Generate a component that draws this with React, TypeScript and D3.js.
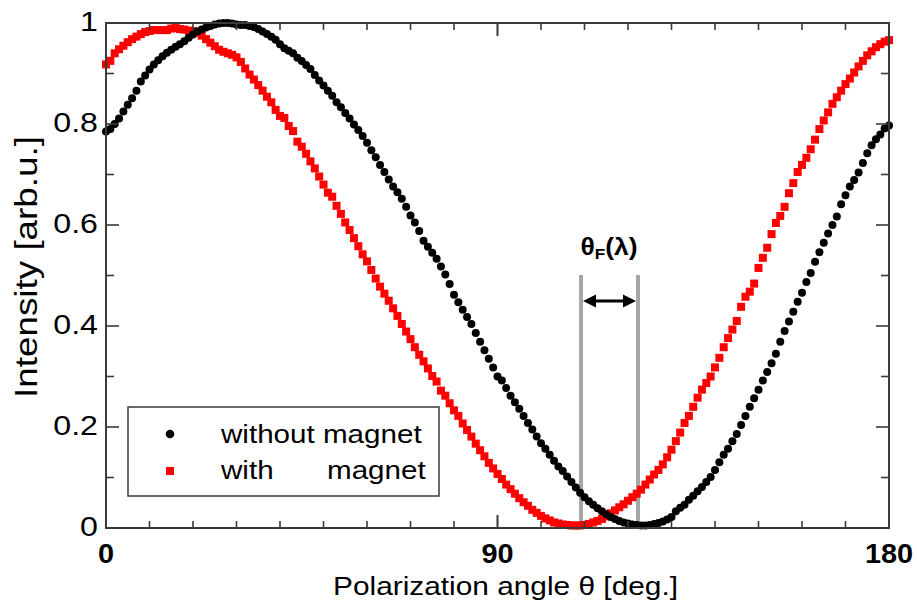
import React from "react";
import * as d3 from "d3";

const angles: number[] = d3.range(0, 181, 1);

const withoutMagnet: number[] = [
  0.785, 0.790, 0.800, 0.811, 0.825, 0.838, 0.851, 0.866, 0.884, 0.896,
  0.908, 0.918, 0.926, 0.934, 0.941, 0.947, 0.953, 0.958, 0.964, 0.971,
  0.977, 0.983, 0.987, 0.991, 0.994, 0.997, 0.999, 1.000, 1.000, 0.999,
  0.997, 0.996, 0.996, 0.994, 0.992, 0.988, 0.983, 0.978, 0.973, 0.967,
  0.958, 0.950, 0.945, 0.940, 0.931, 0.925, 0.917, 0.909, 0.897, 0.886,
  0.876, 0.866, 0.856, 0.843, 0.833, 0.822, 0.811, 0.799, 0.788, 0.776,
  0.763, 0.748, 0.734, 0.719, 0.705, 0.690, 0.676, 0.665, 0.652, 0.636,
  0.619, 0.605, 0.588, 0.569, 0.557, 0.545, 0.533, 0.518, 0.502, 0.483,
  0.462, 0.447, 0.432, 0.418, 0.404, 0.386, 0.369, 0.352, 0.335, 0.318,
  0.300, 0.292, 0.277, 0.262, 0.249, 0.236, 0.222, 0.208, 0.195, 0.181,
  0.168, 0.157, 0.145, 0.133, 0.122, 0.113, 0.102, 0.091, 0.080, 0.070,
  0.061, 0.053, 0.046, 0.039, 0.033, 0.027, 0.022, 0.018, 0.014, 0.011,
  0.009, 0.007, 0.006, 0.005, 0.005, 0.006, 0.008, 0.010, 0.013, 0.017,
  0.022, 0.033, 0.040, 0.046, 0.056, 0.064, 0.073, 0.081, 0.091, 0.101,
  0.115, 0.130, 0.145, 0.157, 0.172, 0.186, 0.204, 0.222, 0.240, 0.257,
  0.274, 0.292, 0.309, 0.326, 0.345, 0.369, 0.390, 0.409, 0.428, 0.448,
  0.466, 0.487, 0.505, 0.527, 0.546, 0.565, 0.583, 0.600, 0.617, 0.641,
  0.659, 0.676, 0.689, 0.704, 0.723, 0.742, 0.758, 0.770, 0.779, 0.791,
  0.797,
];

const withMagnet: number[] = [
  0.918, 0.925, 0.940, 0.948, 0.955, 0.962, 0.968, 0.973, 0.978, 0.982,
  0.984, 0.986, 0.986, 0.986, 0.986, 0.989, 0.990, 0.988, 0.987, 0.985,
  0.984, 0.981, 0.975, 0.968, 0.961, 0.954, 0.947, 0.943, 0.940, 0.937,
  0.932, 0.923, 0.910, 0.898, 0.888, 0.877, 0.866, 0.854, 0.843, 0.828,
  0.816, 0.812, 0.796, 0.786, 0.765, 0.755, 0.741, 0.726, 0.712, 0.696,
  0.680, 0.664, 0.656, 0.638, 0.622, 0.605, 0.590, 0.574, 0.558, 0.542,
  0.528, 0.511, 0.494, 0.478, 0.464, 0.450, 0.435, 0.420, 0.404, 0.389,
  0.374, 0.358, 0.343, 0.330, 0.316, 0.301, 0.290, 0.272, 0.262, 0.247,
  0.233, 0.222, 0.207, 0.194, 0.181, 0.167, 0.154, 0.142, 0.129, 0.118,
  0.107, 0.097, 0.086, 0.077, 0.068, 0.059, 0.051, 0.044, 0.036, 0.030,
  0.024, 0.019, 0.015, 0.011, 0.009, 0.007, 0.006, 0.005, 0.005, 0.005,
  0.006, 0.008, 0.011, 0.014, 0.018, 0.023, 0.029, 0.035, 0.041, 0.047,
  0.054, 0.061, 0.068, 0.076, 0.086, 0.096, 0.106, 0.115, 0.126, 0.140,
  0.155, 0.172, 0.189, 0.208, 0.222, 0.240, 0.258, 0.274, 0.287, 0.300,
  0.318, 0.337, 0.358, 0.376, 0.393, 0.410, 0.438, 0.458, 0.468, 0.484,
  0.515, 0.535, 0.555, 0.582, 0.604, 0.618, 0.636, 0.663, 0.683, 0.705,
  0.719, 0.733, 0.750, 0.769, 0.790, 0.807, 0.823, 0.840, 0.853, 0.866,
  0.879, 0.890, 0.902, 0.914, 0.925, 0.936, 0.944, 0.952, 0.958, 0.963,
  0.966,
];

const xMajorTicks: number[] = [0, 90, 180];
const xMinorTicks: number[] = d3.range(10, 180, 10);
const yMajorTicks: number[] = [0, 0.2, 0.4, 0.6, 0.8, 1];
const yMinorTicks: number[] = [0.1, 0.3, 0.5, 0.7, 0.9];
const yTickLabels: string[] = ["0", "0.2", "0.4", "0.6", "0.8", "1"];
const faradayMarks: number[] = [109.2, 122.3];

const W = 917;
const H = 611;
const FONT = "'Liberation Sans', Arial, sans-serif";
const SX = 1.17;

function T(props: {
  x: number;
  y: number;
  size: number;
  anchor?: string;
  weight?: string;
  sx?: number;
  rotate?: number;
  children: React.ReactNode;
}) {
  const { x, y, size, anchor = "start", weight = "normal", sx = SX, rotate = 0, children } = props;
  return (
    <text
      transform={`translate(${x},${y}) rotate(${rotate}) scale(${sx},1)`}
      textAnchor={anchor}
      fontSize={size}
      fontWeight={weight}
      fill="#000"
    >
      {children}
    </text>
  );
}

export default function App() {
  const x = d3.scaleLinear().domain([0, 180]).range([106, 889]);
  const y = d3.scaleLinear().domain([0, 1]).range([528, 23]);
  const [x0, x1] = x.range();
  const [yb, yt] = y.range();
  const axisColor = "#3a3a3a";
  const majorLen = 13;
  const minorLen = 8;

  const arrowY = 301;
  const ax0 = x(faradayMarks[0]) + 2;
  const ax1 = x(faradayMarks[1]) - 2;

  return (
    <svg
      width={W}
      height={H}
      viewBox={`0 0 ${W} ${H}`}
      style={{ position: "absolute", left: 0, top: 0, background: "#fff" }}
      fontFamily={FONT}
    >
      <rect x={0} y={0} width={W} height={H} fill="#fff" />

      {faradayMarks.map((d, i) => (
        <line
          key={"fm" + i}
          x1={x(d)}
          x2={x(d)}
          y1={275}
          y2={yb}
          stroke="#a6a6a6"
          strokeWidth={4}
        />
      ))}

      {angles.map((a, i) => {
        const s = 8;
        return (
          <rect
            key={"r" + i}
            x={x(a) - s / 2}
            y={y(withMagnet[i]) - s / 2}
            width={s}
            height={s}
            fill="#ff0000"
          />
        );
      })}
      {angles.map((a, i) => (
        <circle
          key={"b" + i}
          cx={x(a)}
          cy={y(withoutMagnet[i])}
          r={4}
          fill="#000"
        />
      ))}

      <rect
        x={x0}
        y={yt}
        width={x1 - x0}
        height={yb - yt}
        fill="none"
        stroke={axisColor}
        strokeWidth={2}
      />

      {xMinorTicks.concat([90]).map((t, i) => {
        const len = t === 90 ? majorLen : minorLen - 1;
        return (
          <g key={"xt" + i}>
            <line x1={x(t)} x2={x(t)} y1={yb} y2={yb - len} stroke={axisColor} strokeWidth={1.6} />
            <line x1={x(t)} x2={x(t)} y1={yt} y2={yt + len} stroke={axisColor} strokeWidth={1.6} />
          </g>
        );
      })}
      {yMajorTicks.concat(yMinorTicks).map((t, i) => {
        const major = yMajorTicks.indexOf(t) >= 0;
        const len = major ? majorLen : minorLen;
        return (
          <g key={"yt" + i}>
            <line x1={x0} x2={x0 + len} y1={y(t)} y2={y(t)} stroke={axisColor} strokeWidth={1.6} />
            <line x1={x1} x2={x1 - len} y1={y(t)} y2={y(t)} stroke={axisColor} strokeWidth={1.6} />
          </g>
        );
      })}

      {yMajorTicks.map((t, i) => (
        <T key={"yl" + i} x={98} y={y(t) + 8} size={27.5} anchor="end">
          {yTickLabels[i]}
        </T>
      ))}
      {xMajorTicks.map((t, i) => (
        <T key={"xl" + i} x={x(t)} y={563} size={27.5} anchor="middle" weight="bold" sx={1.05}>
          {String(t)}
        </T>
      ))}

      <T x={505.5} y={595} size={25.5} anchor="middle">
        Polarization angle θ [deg.]
      </T>
      <T x={37} y={267} size={31.5} anchor="middle" rotate={-90}>
        Intensity [arb.u.]
      </T>

      <line x1={ax0 + 9} x2={ax1 - 9} y1={arrowY} y2={arrowY} stroke="#000" strokeWidth={2.8} />
      <path d={`M${ax0},${arrowY} L${ax0 + 13},${arrowY - 6.5} L${ax0 + 13},${arrowY + 6.5} Z`} fill="#000" />
      <path d={`M${ax1},${arrowY} L${ax1 - 13},${arrowY - 6.5} L${ax1 - 13},${arrowY + 6.5} Z`} fill="#000" />
      <T x={609} y={255} size={23} anchor="middle" weight="bold" sx={1.15}>
        θ<tspan fontSize={15} dy={4}>F</tspan>
        <tspan dy={-4}>(λ)</tspan>
      </T>

      <rect x={128} y={407} width={311} height={89} fill="#fff" stroke={axisColor} strokeWidth={1.5} />
      <circle cx={170} cy={434} r={4.3} fill="#000" />
      <rect x={166} y={467} width={8} height={8} fill="#ff0000" />
      <T x={221} y={443} size={25.3}>without magnet</T>
      <T x={221} y={479} size={25.3}>with</T>
      <T x={327} y={479} size={25.3}>magnet</T>
    </svg>
  );
}
